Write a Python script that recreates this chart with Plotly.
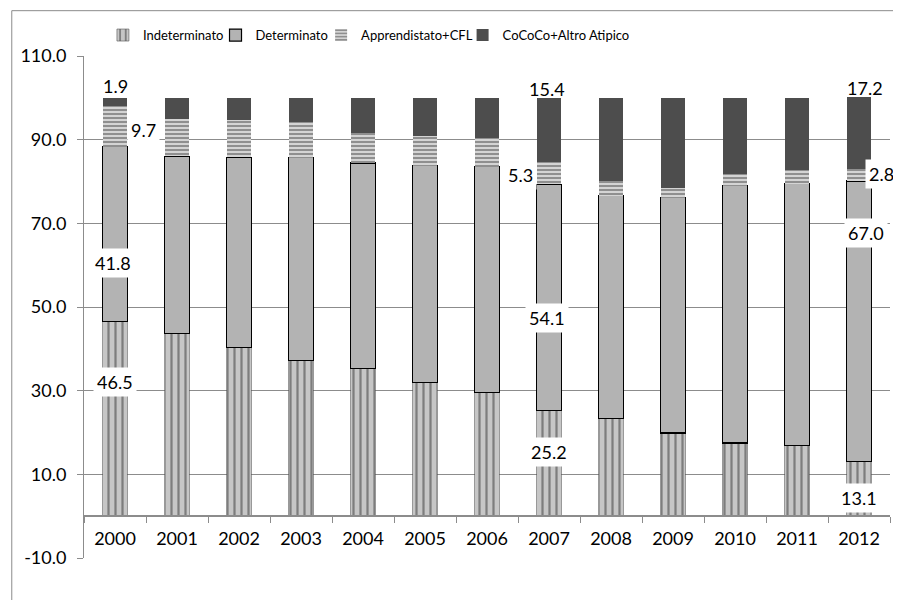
import plotly.graph_objects as go

years = ["2000", "2001", "2002", "2003", "2004", "2005", "2006",
         "2007", "2008", "2009", "2010", "2011", "2012"]
indeterminato = [46.5, 43.7, 40.4, 37.2, 35.3, 32.0, 29.6, 25.2, 23.3, 19.9, 17.5, 16.9, 13.1]
determinato = [41.8, 42.3, 45.4, 48.5, 49.1, 51.8, 53.9, 54.1, 53.3, 56.2, 61.5, 62.6, 67.0]
apprendistato = [9.7, 8.9, 8.9, 8.6, 7.2, 7.0, 7.0, 5.3, 3.6, 2.3, 2.8, 3.2, 2.8]
cococo = [1.9, 5.1, 5.3, 5.7, 8.4, 9.2, 9.5, 15.4, 19.8, 21.6, 18.2, 17.3, 17.2]

series_names = ["Indeterminato", "Determinato", "Apprendistato+CFL", "CoCoCo+Altro Atipico"]
y_ticks = [-10, 10, 30, 50, 70, 90, 110]
y_min, y_max = -10, 110

FONT = "Lato"
GRID = "#8c8c8c"

L, R, T, B = 73, 19, 46, 50
W, H = 901, 600
pw, ph = W - L - R, H - T - B

# one legend per series so each entry sits where it does in the original
legend_ids = ["legend", "legend2", "legend3", "legend4"]
legend_left_px = [92, 205, 311, 453]   # left edge of each legend box (figure px)

markers = [
    dict(color="#c8c8c8",
         pattern=dict(shape="|", fgcolor="#333333", bgcolor="#c6c6c6", size=7, solidity=0.32),
         line=dict(color="#555555", width=0.6)),
    dict(color="#b3b3b3", line=dict(color="#000000", width=1.2)),
    dict(color="#d0d0d0",
         pattern=dict(shape="-", fgcolor="#3c3c3c", bgcolor="#d4d4d4", size=4, solidity=0.45),
         line=dict(width=0)),
    dict(color="#4d4d4d", line=dict(width=0)),
]
series_values = [indeterminato, determinato, apprendistato, cococo]

fig = go.Figure()
for name, vals, mk, lg in zip(series_names, series_values, markers, legend_ids):
    fig.add_trace(go.Bar(x=years, y=vals, name=name, width=0.4, marker=mk, legend=lg))

# data labels (shown only for 2000, 2007, 2012), placed as in the original
label_layout = [
    # (series index, year, label y position, xshift px)
    (3, "2000", 102.8, 0), (2, "2000", 92.4, 28), (1, "2000", 60.6, -2), (0, "2000", 32.1, 0),
    (3, "2007", 102.1, -2), (2, "2007", 81.6, -29), (1, "2007", 47.3, -2), (0, "2007", 15.3, 0),
    (3, "2012", 102.4, 6), (2, "2012", 81.9, 22), (1, "2012", 67.6, 7), (0, "2012", 4.3, 0),
]
for si, yr, ypos, xs in label_layout:
    idx = years.index(yr)
    val = series_values[si][idx]
    boxed = si != 3   # labels above the bars need no white box
    fig.add_annotation(x=idx, y=ypos, xref="x", yref="y", text=f"{val:.1f}",
                       showarrow=False, xshift=xs,
                       bgcolor="white" if boxed else "rgba(0,0,0,0)", borderpad=3,
                       font=dict(family=FONT, size=18, color="black"))

legend_common = dict(orientation="h", xanchor="left", y=1 + 21 / ph, yanchor="middle",
                     font=dict(family=FONT, size=13, color="black"),
                     bgcolor="rgba(0,0,0,0)", itemwidth=30)
layout_legends = {}
for lg, lx in zip(legend_ids, legend_left_px):
    layout_legends[lg] = dict(legend_common, x=(lx - L) / pw)

fig.update_layout(
    barmode="stack",
    width=W, height=H,
    margin=dict(l=L, r=R, t=T, b=B),
    paper_bgcolor="white", plot_bgcolor="white",
    font=dict(family=FONT, size=18, color="black"),
    showlegend=True,
    bargap=0.6,
    **layout_legends,
)
fig.update_yaxes(range=[y_min, y_max], tickvals=y_ticks,
                 ticktext=[f"{v:.1f}" for v in y_ticks],
                 showgrid=True, gridcolor=GRID, gridwidth=1,
                 showline=True, linecolor=GRID, linewidth=1,
                 ticks="outside", ticklen=6, tickcolor=GRID, ticklabelstandoff=7,
                 zeroline=False, tickfont=dict(family=FONT, size=18, color="black"))
fig.update_xaxes(type="category", range=[-0.5, 12.5], anchor="free",
                 position=(0 - y_min) / (y_max - y_min),
                 showline=True, linecolor=GRID, linewidth=1.5,
                 ticks="outside", tickson="boundaries", ticklen=6, tickcolor=GRID,
                 ticklabelstandoff=6,
                 showgrid=False, tickfont=dict(family=FONT, size=18, color="black"))

# outer chart frame (paper edge)
fig.add_shape(type="rect", xref="paper", yref="paper",
              x0=-(L - 0.5) / pw, x1=1 + 30 / pw, y0=-(B + 10) / ph, y1=1 + (T - 0.5) / ph,
              line=dict(color=GRID, width=1), fillcolor="rgba(0,0,0,0)", layer="below")

fig.write_html("out.html")
